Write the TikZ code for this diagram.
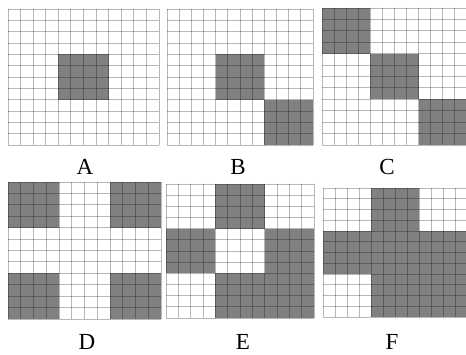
\documentclass[tikz,border=0pt]{standalone}
\usepackage{fontspec}
\setmainfont{Liberation Serif}
\definecolor{cellfill}{RGB}{128,128,128}
\tikzset{
  gridln/.style={draw=black,draw opacity=0.28,line width=0.9pt},
  panellabel/.style={font=\fontsize{23}{23}\selectfont,inner sep=0pt,anchor=center}
}
\newcommand{\gridpanel}[5]{%
  \pgfmathsetmacro\gdx{(#3-#1)/12}%
  \pgfmathsetmacro\gdy{(#4-#2)/12}%
  \foreach \r/\c in {#5}{%
    \fill[cellfill] ({#1+\c*4*\gdx},{#2+\r*4*\gdy}) rectangle ({#1+(\c+1)*4*\gdx},{#2+(\r+1)*4*\gdy});
  }%
  \foreach \i in {0,...,12}{%
    \draw[gridln] ({#1+\i*\gdx},#2) -- ({#1+\i*\gdx},#4);
    \draw[gridln] (#1,{#2+\i*\gdy}) -- (#3,{#2+\i*\gdy});
  }%
}
\begin{document}
\begin{tikzpicture}[x=1pt,y=-1pt]
\useasboundingbox (0,0) rectangle (466,355);
\fill[white] (0,0) rectangle (466,355);
% top row
\gridpanel{8}{9}{159}{145}{1/1}
\gridpanel{167}{9}{313}{145}{1/1,2/2}
\gridpanel{322}{8}{467}{145}{0/0,1/1,2/2}
% bottom row
\gridpanel{8}{182}{161}{319}{0/0,0/2,2/0,2/2}
\gridpanel{166}{184}{314}{318}{0/1,1/0,1/2,2/1,2/2}
\gridpanel{323}{188}{467}{317}{0/1,1/0,1/1,1/2,2/1,2/2}
\node[panellabel] (la) at (85,167) {A};
\node[panellabel] (lb) at (238,167) {B};
\node[panellabel] (lc) at (387,167) {C};
\node[panellabel] (ld) at (87,342) {D};
\node[panellabel] (le) at (243,342) {E};
\node[panellabel] (lf) at (392,342) {F};
\end{tikzpicture}
\end{document}
